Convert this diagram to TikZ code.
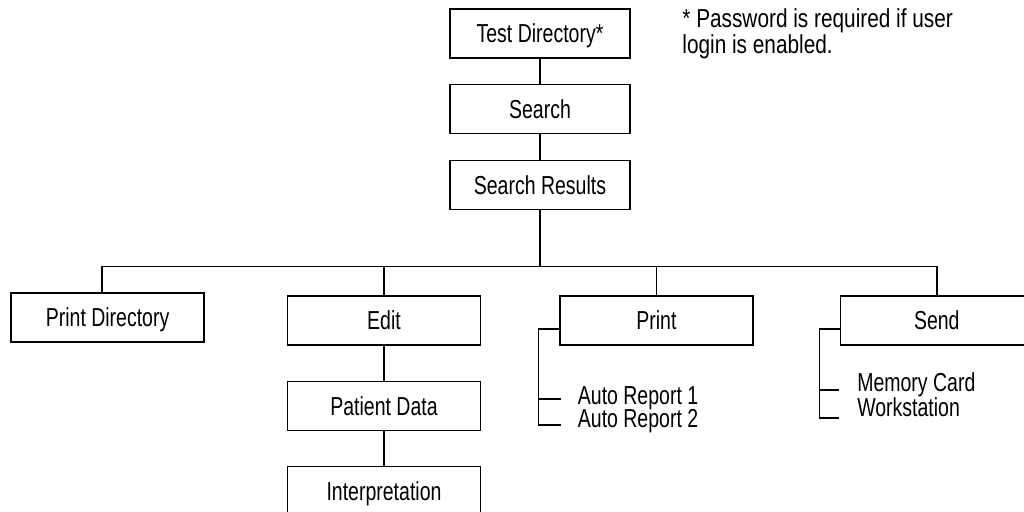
\documentclass[tikz,border=0pt]{standalone}
\usepackage{fontspec}
\setmainfont{Liberation Sans}[FakeStretch=0.75]
\newfontfamily\notefont{Liberation Sans}[FakeStretch=0.80]
\usetikzlibrary{positioning}

\begin{document}
\begin{tikzpicture}[
  font=\fontsize{13}{12}\selectfont,
  line width=0.7pt,
  box/.style={draw,line width=0.7pt,minimum height=24.5pt,inner sep=2pt,text height=9.3pt,text depth=0pt},
  topbox/.style={box,minimum width=90pt},
  menu/.style={box,minimum width=96.5pt},
  item/.style={inner sep=0pt,text height=6pt,text depth=0pt},
  note/.style={inner sep=0pt,align=left,font=\notefont\fontsize{13}{11.5}\selectfont},
]
\useasboundingbox (0,0) rectangle (512pt,256pt);

% --- top chain ---
\node[topbox] (td) at (270pt,239.25pt) {Test Directory*};
\node[topbox,below=12.5pt of td]      (search)  {Search};
\node[topbox,below=13pt of search]    (results) {Search Results};
\node[note,right=25.5pt of td] (fn) {* Password is required if user\\login is enabled.};

% --- second level ---
\node[menu] (edit) at (192pt,95.75pt) {Edit};
\node[menu,left=41pt of edit,yshift=1.5pt] (pdir)  {Print Directory};
\node[menu,right=39pt of edit]             (print) {Print};
\node[menu,right=43pt of print]            (send)  {Send};

% --- edit branch ---
\node[menu,below=17.5pt of edit]  (pdata)  {Patient Data};
\node[menu,below=17.5pt of pdata] (interp) {Interpretation};

% --- print / send options ---
\node[item,anchor=west] (ar1) at ([xshift=9pt,yshift=-39.25pt]print.west) {Auto Report 1};
\node[item,below=11.5pt of ar1.west,anchor=west] (ar2) {Auto Report 2};
\node[item,anchor=west] (mc) at ([xshift=8.5pt,yshift=-32.75pt]send.west) {Memory Card};
\node[item,below=12.5pt of mc.west,anchor=west] (ws) {Workstation};

% --- connectors ---
\coordinate[below=28pt of results] (bus);
\draw (td) -- (search);
\draw (search) -- (results);
\draw (results) -- (bus);
\draw ([xshift=-2.75pt]bus -| pdir) -- (bus -| send);
\draw ([xshift=-2.75pt]bus -| pdir) -- ([xshift=-2.75pt]pdir.north);
\foreach \n in {edit,print,send} \draw (bus -| \n) -- (\n);
\draw (edit) -- (pdata);
\draw (pdata) -- (interp);

\coordinate (pj) at ([xshift=-10.5pt,yshift=-4.25pt]print.west);
\draw ([yshift=-4.25pt]print.west) -- (pj) |- ([xshift=-8pt,yshift=-1.5pt]ar2.west);
\draw (pj |- ar1.west) -- ([xshift=-8pt]ar1.west);

\coordinate (sj) at ([xshift=-10pt,yshift=-4.25pt]send.west);
\draw ([yshift=-4.25pt]send.west) -- (sj) |- ([xshift=-9pt,yshift=-3.5pt]ws.west);
\draw ([yshift=-2pt]sj |- mc.west) -- ([xshift=-9pt,yshift=-2pt]mc.west);

\end{tikzpicture}
\end{document}
